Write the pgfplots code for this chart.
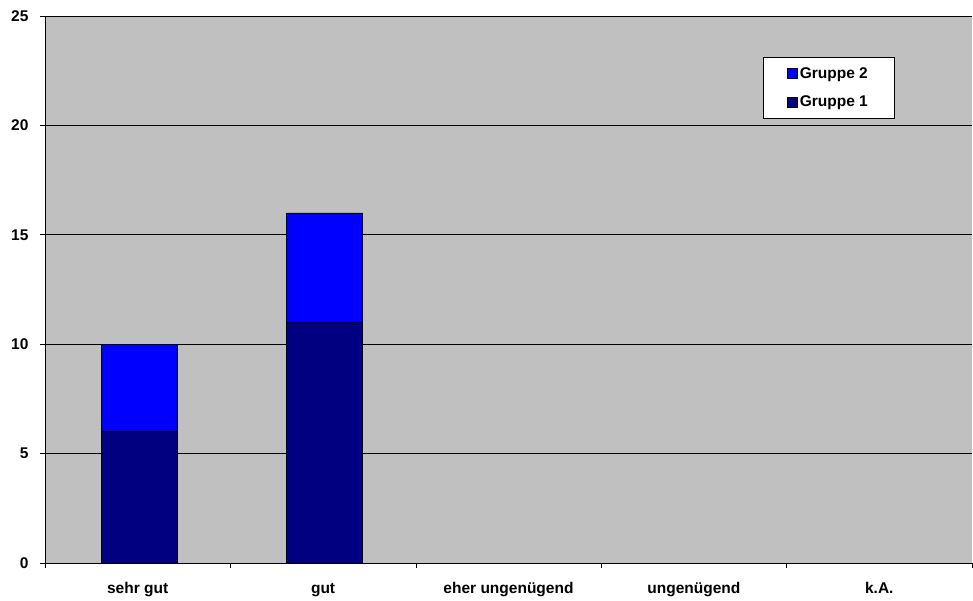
\documentclass[border=0pt]{standalone}
\usepackage{pgfplots}
\pgfplotsset{compat=1.18}
\usepackage{fontspec}
\setmainfont{Liberation Sans}
\definecolor{bgray}{HTML}{C0C0C0}
\definecolor{navyA}{HTML}{000080}
\definecolor{blueB}{HTML}{0000FF}
\begin{document}
\begin{tikzpicture}[font=\fontsize{15.5}{18}\selectfont\bfseries]
\begin{axis}[
  at={(0pt,0pt)}, anchor=south west,
  scale only axis,
  width=927pt, height=547pt,
  ybar stacked,
  bar width=76pt,
  bar shift=1.5pt,
  xmin=-0.5, xmax=4.5,
  ymin=0, ymax=25,
  ytick={0,5,...,25},
  xtick={0,1,2,3,4},
  xticklabels={sehr gut,gut,eher ungenügend,ungenügend,k.A.},
  minor xtick={-0.5,0.5,...,4.5},
  major x tick style={draw=none},
  minor tick length=5pt,
  major tick length=5pt,
  tick align=outside,
  tick style={black, line width=0.6pt},
  x tick label style={yshift=-11pt, text height=11pt, text depth=3pt},
  y tick label style={xshift=-8pt},
  /pgf/number format/assume math mode=true,
  axis x line*=bottom,
  axis y line*=left,
  axis line style={black, line width=0.8pt, -},
  ymajorgrids,
  grid style={black, line width=0.6pt},
  axis background/.style={fill=bgray},
  legend style={at={(718/927,1-41/547)}, anchor=north west,
    draw=black, line width=0.6pt, fill=white,
    inner xsep=24pt, inner ysep=8pt,
    row sep=12pt,
    font=\fontsize{15.5}{18}\selectfont\bfseries},
  legend cell align=left,
  reverse legend,
  legend image code/.code={
    \draw[#1, line width=0.5pt] (0pt,-5pt) rectangle (10pt,5pt);},
]
\addplot[fill=navyA, draw=black, line width=0.8pt] coordinates
  {(0,6) (1,11) (2,0) (3,0) (4,0)};
\addlegendentry{Gruppe 1}
\addplot[fill=blueB, draw=black, line width=0.8pt] coordinates
  {(0,4) (1,5) (2,0) (3,0) (4,0)};
\addlegendentry{Gruppe 2}
\end{axis}
\path[use as bounding box] (-45pt,-38pt) rectangle (928pt,563pt);
\end{tikzpicture}
\end{document}
